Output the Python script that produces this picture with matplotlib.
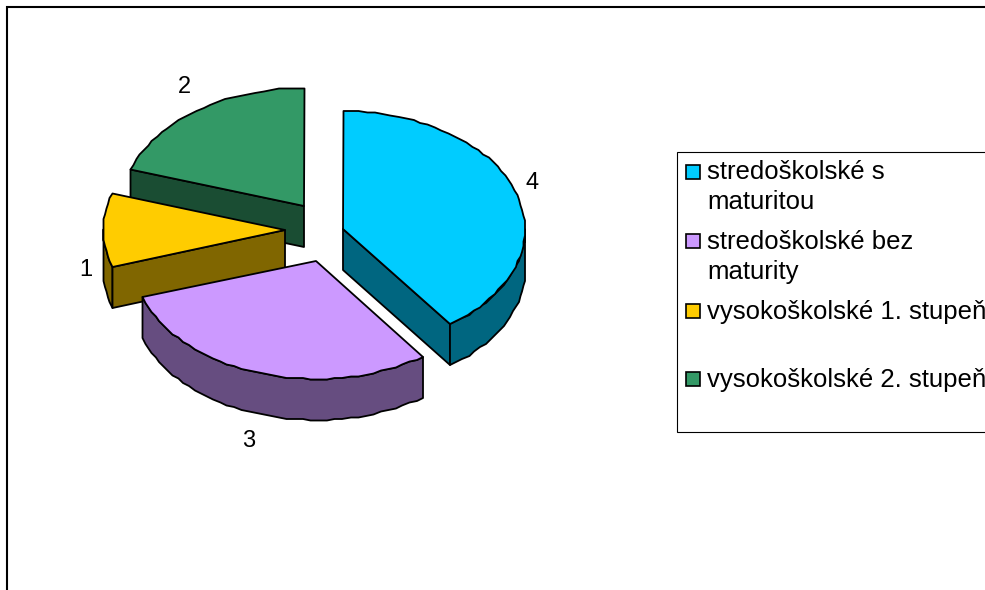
import matplotlib
matplotlib.use('Agg')
import matplotlib.pyplot as plt
from matplotlib.patches import Polygon, Rectangle
import numpy as np

# data
values = [4, 3, 1, 2]
legend_names = [['stredoškolské s', 'maturitou'], ['stredoškolské bez', 'maturity'],
                ['vysokoškolské 1. stupeň'], ['vysokoškolské 2. stupeň']]

# styles and layout, all in pixels of the 985x590 picture
top_colors = ['#00CCFF', '#CC99FF', '#FFCC00', '#339966']
side_colors = ['#006680', '#664D80', '#806600', '#1A4D33']
apex = [(343, 229), (316, 261), (285, 230), (304, 206)]
label_pos = [(532, 183), (249, 441), (86, 270), (184, 87)]
legend_y = [172, 241, 311, 379]
text_y = [172, 242, 312, 380]
rx, ry, depth = 182, 118, 41
lw = 1.3
fs = 18.5

plt.rcParams['font.family'] = ['Liberation Sans', 'DejaVu Sans']
fig = plt.figure(figsize=(9.85, 5.9), dpi=100)
ax = fig.add_axes([0, 0, 1, 1])
ax.set_xlim(0, 985)
ax.set_ylim(590, 0)
ax.axis('off')


def arc(i, a0, a1):
    # small steps on the rim, the reference has the same scalloped edge
    n = max(int(abs(a1 - a0) / 2.5), 1)
    t = np.radians(np.linspace(a0, a1, n + 1))
    x = apex[i][0] + rx * np.sin(t)
    y = apex[i][1] - ry * np.cos(t)
    return np.column_stack([np.round(x / 1.5) * 1.5, np.round(y / 1.5) * 1.5])


def wall(pts, color, z):
    low = pts[::-1] + [0, depth]
    ax.add_patch(Polygon(np.vstack([pts, low]), closed=True, fc=color, ec='black',
                         lw=lw, joinstyle='round', zorder=z))


edges = np.cumsum([0] + values) / sum(values) * 360
order = [3, 2, 0, 1]  # back slices first

for z, i in enumerate(order):
    a0, a1 = edges[i], edges[i + 1]
    c = np.array(apex[i], dtype=float)
    rim = arc(i, a0, a1)
    zz = z * 10 + 1
    if i == 0:
        wall(np.vstack([c, rim[-1]]), side_colors[i], zz)
        wall(arc(i, 90, a1), side_colors[i], zz + 1)
    elif i == 1:
        wall(arc(i, a0, a1), side_colors[i], zz)
    elif i == 2:
        wall(arc(i, a0, 270), side_colors[i], zz)
        wall(np.vstack([rim[0], c]), side_colors[i], zz + 1)
    else:
        wall(np.vstack([rim[0], c]), side_colors[i], zz)
    ax.add_patch(Polygon(np.vstack([c, rim]), closed=True, fc=top_colors[i], ec='black',
                         lw=lw, joinstyle='round', zorder=zz + 2))
    ax.text(label_pos[i][0], label_pos[i][1], str(values[i]), fontsize=17,
            ha='center', va='center', zorder=60)

# outer frame, runs off the picture on the right and at the bottom
ax.plot([7, 7, 990], [595, 7, 7], color='black', lw=1.5, solid_joinstyle='miter', zorder=70)

# legend box, cut by the right edge like the reference
ax.plot([990, 677, 677, 990], [152, 152, 432, 432], color='black', lw=0.8,
        solid_joinstyle='miter', zorder=70)
for i in range(len(values)):
    ax.add_patch(Rectangle((685.5, legend_y[i] - 7), 14, 14, fc=top_colors[i], ec='black',
                           lw=1.2, zorder=71))
    for k, line in enumerate(legend_names[i]):
        ax.text(707, text_y[i] + 30 * k, line, fontsize=fs, va='center', ha='left', zorder=71)

fig.savefig('out.png', dpi=100)
